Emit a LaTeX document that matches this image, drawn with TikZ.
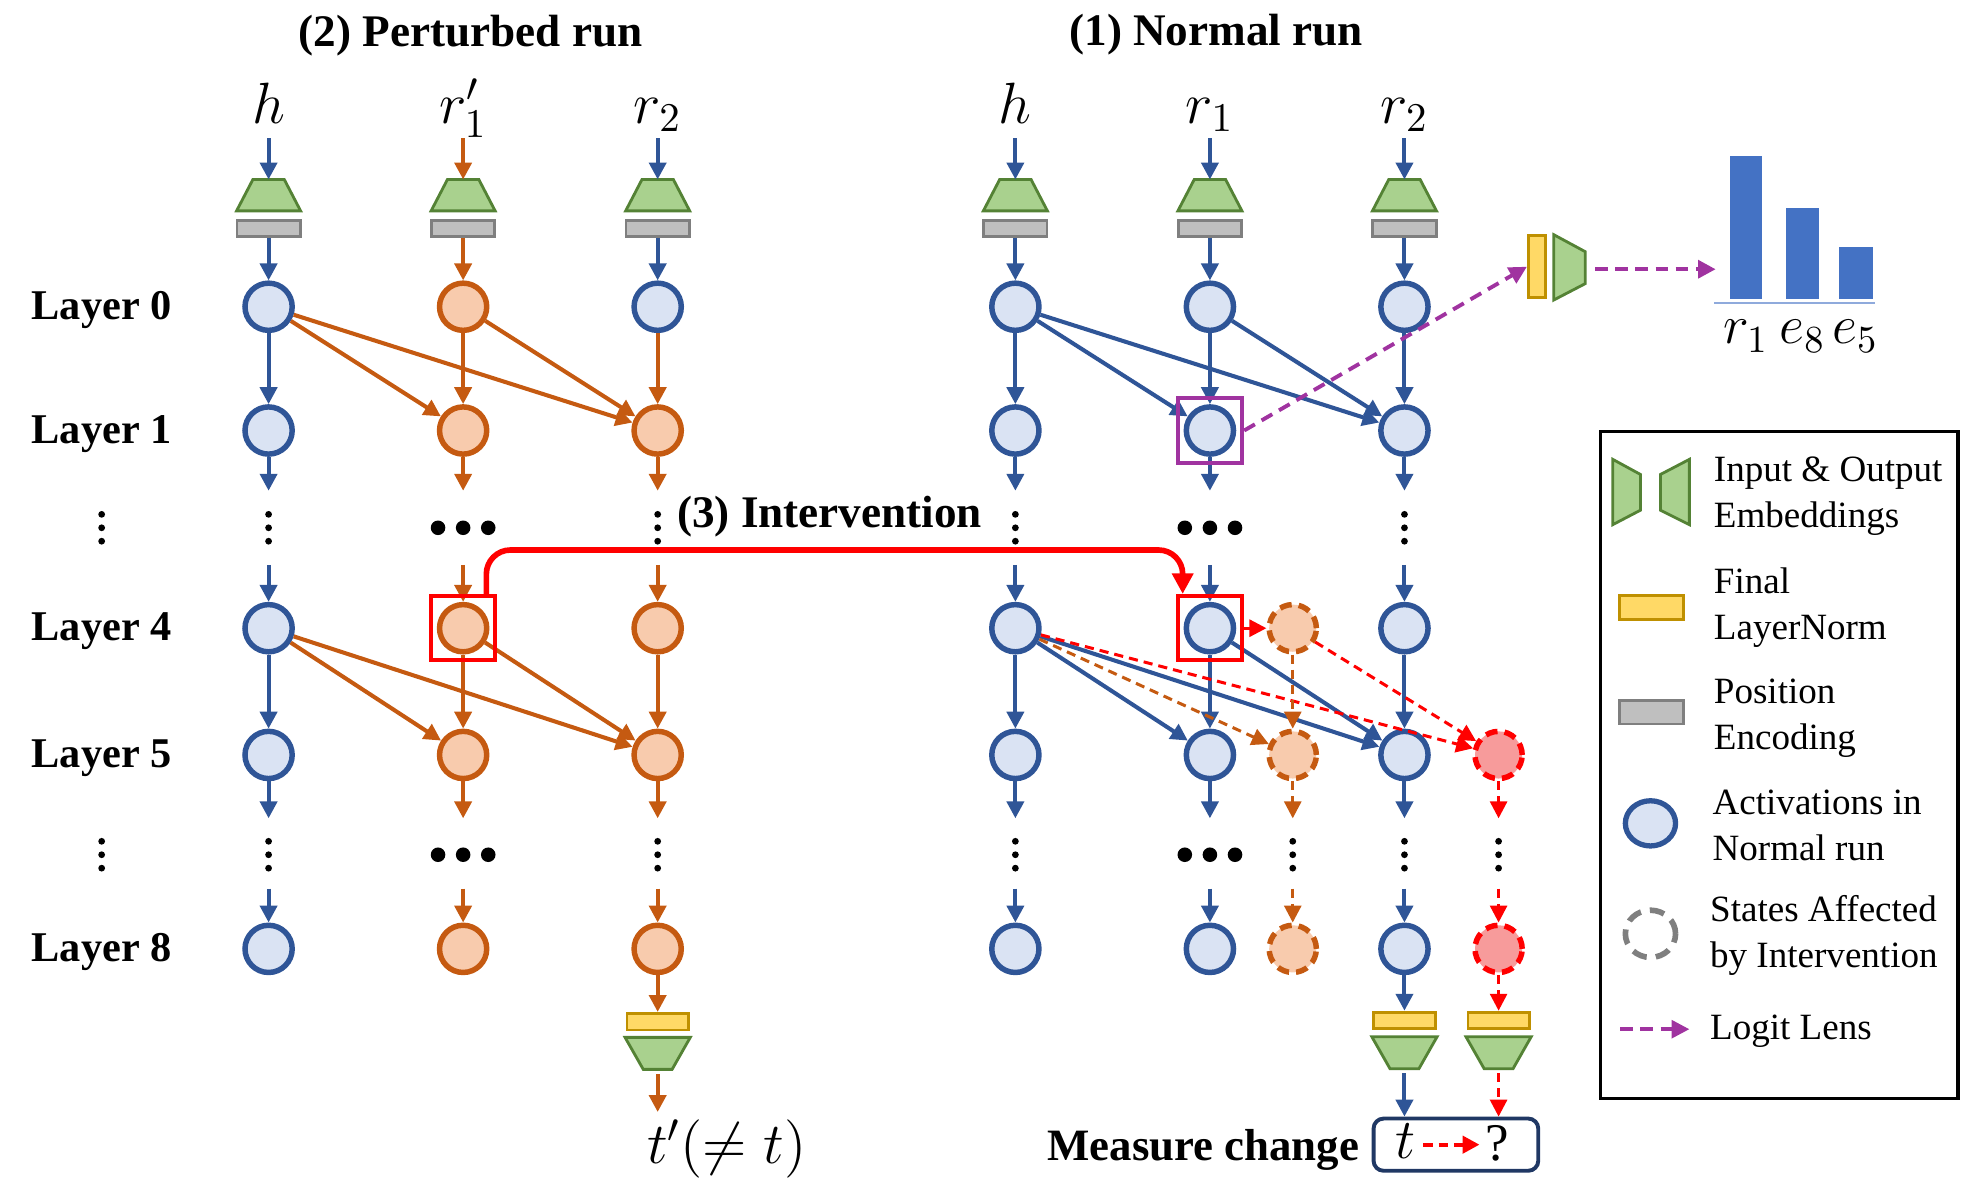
\RequirePackage{fix-cm}
\documentclass[tikz,border=0pt]{standalone}
\usepackage{fontspec}
\setmainfont{Liberation Serif}
\usetikzlibrary{arrows.meta,shapes.geometric}
\definecolor{cblue}{HTML}{2F5597}
\definecolor{cbluef}{HTML}{DAE3F3}
\definecolor{corange}{HTML}{C55A11}
\definecolor{corangef}{HTML}{F8CBAD}
\definecolor{cgreen}{HTML}{548235}
\definecolor{cgreenf}{HTML}{A9D18E}
\definecolor{cgray}{HTML}{7F7F7F}
\definecolor{cgrayf}{HTML}{BFBFBF}
\definecolor{cyel}{HTML}{BF9000}
\definecolor{cyelf}{HTML}{FFD966}
\definecolor{cred}{HTML}{FF0000}
\definecolor{credf}{HTML}{F79B9B}
\definecolor{cmag}{HTML}{A033A0}
\definecolor{cbar}{HTML}{4472C4}
\definecolor{cbase}{HTML}{8FAADC}
\definecolor{cnavy}{HTML}{203864}
\begin{document}
\begin{tikzpicture}[x=0.0125cm,y=-0.0125cm,
  tipA/.style={-{Triangle[length=4.8pt,width=4.8pt]}},
  arr/.style={draw=#1, line width=1.15pt, tipA},
  darr/.style={draw=#1, line width=0.85pt, dash pattern=on 2.6pt off 1.7pt, tipA},
  act/.style={circle, line width=1.55pt, minimum size=0.47cm, inner sep=0pt},
  bact/.style={act, draw=cblue, fill=cbluef},
  oact/.style={act, draw=corange, fill=corangef},
  odact/.style={oact, dash pattern=on 3.4pt off 2pt},
  rdact/.style={act, draw=cred, fill=credf, dash pattern=on 3.4pt off 2pt},
  posenc/.style={rectangle, draw=cgray, fill=cgrayf, line width=0.8pt, minimum width=0.63cm, minimum height=0.16cm, inner sep=0pt},
  lnorm/.style={rectangle, draw=cyel, fill=cyelf, line width=0.8pt, minimum width=0.61cm, minimum height=0.165cm, inner sep=0pt},
  emb/.style={draw=cgreen, fill=cgreenf, line width=0.8pt},
  hibox/.style={rectangle, draw=#1, line width=1.2pt, minimum size=0.64cm, inner sep=0pt},
  mag/.style={draw=cmag, line width=1.2pt, dash pattern=on 3.5pt off 2.2pt, -{Triangle[length=5pt,width=5pt]}},
  interv/.style={draw=cred, line width=1.6pt, rounded corners=0.24cm, -{Triangle[length=5.8pt,width=5.8pt]}},
  ttl/.style={font=\fontsize{12.8}{15}\selectfont\bfseries, inner sep=0pt},
  laylab/.style={font=\fontsize{12}{14}\selectfont\bfseries, inner sep=0pt, anchor=base},
  tokfont/.style={font=\fontsize{16.5}{19}\selectfont, inner sep=0pt, anchor=base},
  legtxt/.style={font=\fontsize{10.5}{13}\selectfont, align=left, anchor=west, inner sep=0pt}
]
\useasboundingbox (0,0) rectangle (1568,950.5);

% ---------- titles ----------
\node[ttl, anchor=base] (ttl2) at (375,37) {(2) Perturbed run};
\node[ttl, anchor=base] (ttl1) at (969,36.5) {(1) Normal run};
\node[ttl, anchor=base] (ttl3) at (661,420.5) {(3) Intervention};

% ---------- layer labels ----------
\node[laylab] (lab0) at (81,254.4) {Layer 0};
\node[laylab] (lab1) at (81,353) {Layer 1};
\node[laylab] (lab4) at (81,510.5) {Layer 4};
\node[laylab] (lab5) at (81,611.5) {Layer 5};
\node[laylab] (lab8) at (81,766) {Layer 8};

% ---------- tokens ----------
\node[tokfont] (tk-p1) at (214,98) {$h$};
\node[tokfont] (tk-p2) at (369,98) {$r_1'$};
\node[tokfont] (tk-p3) at (524,98) {$r_2$};
\node[tokfont] (tk-n1) at (809,98) {$h$};
\node[tokfont] (tk-n2) at (964,98) {$r_1$};
\node[tokfont] (tk-n3) at (1119,98) {$r_2$};

% ---------- input embeddings and position encodings ----------
\foreach \nm/\x/\ca in {p1/214/cblue, p2/369/corange, p3/524/cblue, n1/809/cblue, n2/964/cblue, n3/1119/cblue}{
  \coordinate (\nm-in) at (\x,110);
  \coordinate (\nm-et) at (\x,143);
  \draw[emb] (\x-12.5,143) -- (\x+12.5,143) -- (\x+25.5,168) -- (\x-25.5,168) -- cycle;
  \draw[arr=\ca] (\nm-in) -- (\nm-et);
  \node[posenc] (\nm-pe) at (\x,182) {};
}

% ---------- activation nodes ----------
\foreach \nm/\x in {p1/214, n1/809, n2/964, n3/1119}{
  \foreach \r/\y in {0/244.4, 1/343, 4/500.5, 5/601.5, 8/756}{
    \node[bact] (\nm-\r) at (\x,\y) {};
  }
}
\foreach \r/\y in {0/244.4, 1/343, 4/500.5, 5/601.5, 8/756}{
  \node[oact] (p2-\r) at (369,\y) {};
}
\node[bact] (p3-0) at (524,244.4) {};
\foreach \r/\y in {1/343, 4/500.5, 5/601.5, 8/756}{
  \node[oact] (p3-\r) at (524,\y) {};
}
\node[odact] (no-4) at (1030,500.5) {};
\node[odact] (no-5) at (1030,601.5) {};
\node[odact] (no-8) at (1030,756) {};
\node[rdact] (nr-5) at (1194,601.5) {};
\node[rdact] (nr-8) at (1194,756) {};

% ---------- vertical flow ----------
\foreach \nm/\x/\ca/\cb in {p1/214/cblue/cblue, p2/369/corange/corange, p3/524/cblue/corange, n1/809/cblue/cblue, n2/964/cblue/cblue, n3/1119/cblue/cblue}{
  \coordinate (\nm-a) at (\x,391);
  \coordinate (\nm-b) at (\x,450);
  \coordinate (\nm-c) at (\x,652);
  \coordinate (\nm-d) at (\x,708);
  \draw[arr=\ca] (\nm-pe) -- (\nm-0);
  \draw[arr=\cb] (\nm-0) -- (\nm-1);
  \draw[arr=\cb] (\nm-1) -- (\nm-a);
  \draw[arr=\cb] (\nm-b) -- (\nm-4);
  \draw[arr=\cb] (\nm-4) -- (\nm-5);
  \draw[arr=\cb] (\nm-5) -- (\nm-c);
  \draw[arr=\cb] (\nm-d) -- (\nm-8);
}

% ---------- dots ----------
\foreach \x in {81,214,524,809,1119}{
  \foreach \y in {420.5,681}{
    \fill (\x,\y-10.7) circle (2.7) (\x,\y) circle (2.7) (\x,\y+10.7) circle (2.7);
  }
}
\foreach \x in {1030,1194}{
  \fill (\x,681-10.7) circle (2.7) (\x,681) circle (2.7) (\x,681+10.7) circle (2.7);
}
\foreach \x in {369,964}{
  \foreach \y in {420.5,681}{
    \fill (\x-20,\y) circle (5.8) (\x,\y) circle (5.8) (\x+20,\y) circle (5.8);
  }
}

% ---------- cross-position edges ----------
\draw[arr=corange] (p1-0) -- (p2-1);
\draw[arr=corange] (p1-0) -- (p3-1);
\draw[arr=corange] (p2-0) -- (p3-1);
\draw[arr=corange] (p1-4) -- (p2-5);
\draw[arr=corange] (p1-4) -- (p3-5);
\draw[arr=corange] (p2-4) -- (p3-5);
\draw[arr=cblue] (n1-0) -- (n2-1);
\draw[arr=cblue] (n1-0) -- (n3-1);
\draw[arr=cblue] (n2-0) -- (n3-1);
\draw[arr=cblue] (n1-4) -- (n2-5);
\draw[arr=cblue] (n1-4) -- (n3-5);
\draw[arr=cblue] (n2-4) -- (n3-5);

% ---------- highlight boxes ----------
\node[hibox=cred] (pbox) at (369,500.5) {};
\node[hibox=cred] (nbox) at (964,500.5) {};
\node[hibox=cmag] (mbox) at (964,343) {};

% ---------- affected states ----------
\draw[darr=cred] (nbox.east) -- (no-4);
\draw[darr=corange] (n1-4) -- (no-5);
\draw[darr=cred] (n1-4) -- (nr-5);
\draw[darr=corange] (no-4) -- (no-5);
\draw[darr=cred] (no-4) -- (nr-5);
\coordinate (no-c) at (1030,652);
\coordinate (no-d) at (1030,708);
\coordinate (nr-c) at (1194,652);
\coordinate (nr-d) at (1194,708);
\draw[darr=corange] (no-5) -- (no-c);
\draw[darr=corange] (no-d) -- (no-8);
\draw[darr=cred] (nr-5) -- (nr-c);
\draw[darr=cred] (nr-d) -- (nr-8);

% ---------- intervention ----------
\draw[interv] ([xshift=-0.11cm]pbox.north east) -- ++(0,-35) -| ([xshift=0.07cm]nbox.north west);

% ---------- outputs ----------
\node[lnorm] (p3-ln) at (524,814) {};
\draw[arr=corange] (p3-8) -- (p3-ln);
\draw[emb] (524-26,826.5) -- (524+26,826.5) -- (524+11.5,852) -- (524-11.5,852) -- cycle;
\coordinate (p3-ob) at (524,856);
\coordinate (p3-out) at (524,886);
\draw[arr=corange] (p3-ob) -- (p3-out);
\node[font=\fontsize{16.5}{19}\selectfont, inner sep=0pt, anchor=base] (tprime) at (579,927) {$t'(\neq t)$};

\node[draw=cnavy, line width=1.1pt, rounded corners=0.1cm, minimum width=1.64cm, minimum height=0.52cm, inner sep=0pt] (mchg) at (1160,912) {};
\node[lnorm] (n3-ln) at (1119,813) {};
\draw[arr=cblue] (n3-8) -- (n3-ln);
\draw[emb] (1119-26,826) -- (1119+26,826) -- (1119+11.5,851.5) -- (1119-11.5,851.5) -- cycle;
\coordinate (n3-ob) at (1119,855);
\draw[arr=cblue] (n3-ob) -- (n3-ob |- mchg.north);
\node[lnorm] (nr-ln) at (1194,813) {};
\draw[darr=cred] (nr-8) -- (nr-ln);
\draw[emb] (1194-26,826) -- (1194+26,826) -- (1194+11.5,851.5) -- (1194-11.5,851.5) -- cycle;
\coordinate (nr-ob) at (1194,855);
\draw[darr=cred] (nr-ob) -- (nr-ob |- mchg.north);

\node[font=\fontsize{12.7}{15}\selectfont\bfseries, inner sep=0pt, anchor=base west] (mtxt) at (834,924.5) {Measure change};
\node[font=\fontsize{16}{18}\selectfont, inner sep=0pt, anchor=base] (tt) at (1120,923) {$t$};
\node[font=\fontsize{15}{18}\selectfont, inner sep=0pt, anchor=base] (tq) at (1193,925) {?};
\draw[darr=cred, line width=1.2pt] ([xshift=2pt]tt.east |- mchg.center) -- ([xshift=-1.5pt]tq.west |- mchg.center);

% ---------- logit lens ----------
\node[rectangle, draw=cyel, fill=cyelf, line width=0.8pt, minimum width=0.17cm, minimum height=0.62cm, inner sep=0pt] (ll-ln) at (1224.5,212.5) {};
\draw[emb] (1238,187) -- (1263,200.5) -- (1263,226) -- (1238,239) -- cycle;
\draw[mag, line width=1.1pt] (mbox.east) -- (ll-ln.west);
\coordinate (ll-o) at (1271,214.5);
\coordinate (ll-e) at (1367,214.5);
\draw[mag] (ll-o) -- (ll-e);

% ---------- bar chart ----------
\fill[cbar] (1378,124) rectangle (1404,238.5);
\fill[cbar] (1423,165.5) rectangle (1449,238.5);
\fill[cbar] (1465,197) rectangle (1492,238.5);
\draw[cbase, line width=0.6pt] (1366,241.5) -- (1494,241.5);
\node[font=\fontsize{15.5}{18}\selectfont, inner sep=0pt, anchor=base] (lr1) at (1391,274) {$r_1$};
\node[font=\fontsize{15.5}{18}\selectfont, inner sep=0pt, anchor=base] (le8) at (1436,274) {$e_8$};
\node[font=\fontsize{15.5}{18}\selectfont, inner sep=0pt, anchor=base] (le5) at (1478,274) {$e_5$};

% ---------- legend ----------
\draw[black, line width=0.9pt] (1275,343.5) rectangle (1560,875.5);
\draw[emb] (1285,366) -- (1307,378) -- (1307,406.5) -- (1285,418) -- cycle;
\draw[emb] (1323,378) -- (1346,366) -- (1346,418) -- (1323,406.5) -- cycle;
\node[legtxt] (lg1) at (1365,395) {Input \& Output\\Embeddings};
\node[rectangle, draw=cyel, fill=cyelf, line width=0.8pt, minimum width=0.64cm, minimum height=0.24cm, inner sep=0pt] (lgy) at (1316,484) {};
\node[legtxt] (lg2) at (1365,484) {Final\\LayerNorm};
\node[rectangle, draw=cgray, fill=cgrayf, line width=0.8pt, minimum width=0.64cm, minimum height=0.235cm, inner sep=0pt] (lgg) at (1316,567.5) {};
\node[legtxt] (lg3) at (1365,572) {Position\\Encoding};
\node[ellipse, draw=cblue, fill=cbluef, line width=1.5pt, minimum width=0.5cm, minimum height=0.45cm, inner sep=0pt] (lgc) at (1315,656) {};
\node[legtxt] (lg4) at (1364,657.5) {Activations in\\Normal run};
\node[ellipse, draw=cgray, line width=1.6pt, dash pattern=on 4.2pt off 2.6pt, minimum width=0.5cm, minimum height=0.47cm, inner sep=0pt] (lgd) at (1315,744) {};
\node[legtxt] (lg5) at (1362,745.5) {States Affected\\by Intervention};
\coordinate (lgm-a) at (1291,820);
\coordinate (lgm-b) at (1346,820);
\draw[mag, line width=1pt] (lgm-a) -- (lgm-b);
\node[legtxt] (lg6) at (1362,821.5) {Logit Lens};
\end{tikzpicture}
\end{document}
